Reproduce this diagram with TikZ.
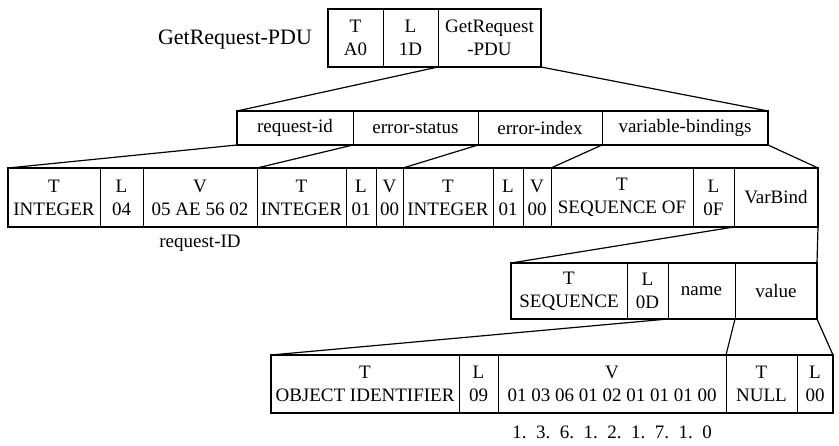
\documentclass[tikz,border=0pt]{standalone}
\usepackage{fontspec}
\setmainfont{Liberation Serif}
\begin{document}
\begin{tikzpicture}[x=1pt,y=-1pt,
  cell/.style={draw, line width=0.8pt, inner sep=0pt, outer sep=0pt, anchor=north west,
    align=center, font=\fontsize{19}{23}\selectfont},
  rowbox/.style={draw, line width=1.6pt},
  link/.style={draw, line width=1.2pt},
  lbl/.style={inner sep=0pt, font=\fontsize{19}{23}\selectfont}]
\useasboundingbox (0,0) rectangle (839,446);
% labels
\node[lbl, font=\fontsize{22}{26}\selectfont] (title) at (235,40) {GetRequest-PDU};
% row 1
\node[cell, minimum width=55pt, minimum height=58pt] (a1) at (328,9) {T\\A0};
\node[cell, minimum width=55pt, minimum height=58pt] (a2) at (383,9) {L\\1D};
\node[cell, minimum width=103pt, minimum height=58pt] (a3) at (438,9) {GetRequest\\-PDU};
\draw[rowbox] (a1.north west) rectangle (a3.south east);
% row 2
\node[cell, minimum width=116pt, minimum height=34pt] (b1) at (237,111) {request-id};
\node[cell, minimum width=125pt, minimum height=34pt] (b2) at (353,111) {error-status};
\node[cell, minimum width=124pt, minimum height=34pt] (b3) at (478,111) {error-index};
\node[cell, minimum width=166pt, minimum height=34pt] (b4) at (602,111) {variable-bindings};
\draw[rowbox] (b1.north west) rectangle (b4.south east);
% row 3
\node[cell, minimum width=92pt, minimum height=59pt] (c1) at (8,168) {T\\INTEGER};
\node[cell, minimum width=43pt, minimum height=59pt] (c2) at (100,168) {L\\04};
\node[cell, minimum width=114pt, minimum height=59pt] (c3) at (143,168) {V\\05 AE 56 02};
\node[cell, minimum width=89pt, minimum height=59pt] (c4) at (257,168) {T\\INTEGER};
\node[cell, minimum width=30pt, minimum height=59pt] (c5) at (346,168) {L\\01};
\node[cell, minimum width=27pt, minimum height=59pt] (c6) at (376,168) {V\\00};
\node[cell, minimum width=90pt, minimum height=59pt] (c7) at (403,168) {T\\INTEGER};
\node[cell, minimum width=30pt, minimum height=59pt] (c8) at (493,168) {L\\01};
\node[cell, minimum width=28pt, minimum height=59pt] (c9) at (523,168) {V\\00};
\node[cell, minimum width=142pt, minimum height=59pt] (c10) at (551,168) {T\\SEQUENCE OF};
\node[cell, minimum width=41pt, minimum height=59pt] (c11) at (693,168) {L\\0F};
\node[cell, minimum width=84pt, minimum height=59pt] (c12) at (734,168) {VarBind};
\draw[rowbox] (c1.north west) rectangle (c12.south east);
\node[lbl] (reqid) at (200,243) {request-ID};
% row 4
\node[cell, minimum width=116pt, minimum height=56pt] (d1) at (511,263) {T\\SEQUENCE};
\node[cell, minimum width=41pt, minimum height=56pt] (d2) at (627,263) {L\\0D};
\node[cell, minimum width=67pt, minimum height=56pt] (d3) at (668,263) {name};
\node[cell, minimum width=82pt, minimum height=56pt] (d4) at (735,263) {value};
\draw[rowbox] (d1.north west) rectangle (d4.south east);
% row 5
\node[cell, minimum width=188pt, minimum height=58pt] (e1) at (271,355) {T\\OBJECT IDENTIFIER};
\node[cell, minimum width=39pt, minimum height=58pt] (e2) at (459,355) {L\\09};
\node[cell, minimum width=228pt, minimum height=58pt] (e3) at (498,355) {V\\01 03 06 01 02 01 01 01 00};
\node[cell, minimum width=71pt, minimum height=58pt] (e4) at (726,355) {T\\NULL};
\node[cell, minimum width=36pt, minimum height=58pt] (e5) at (797,355) {L\\00};
\draw[rowbox] (e1.north west) rectangle (e5.south east);
\node[lbl] (oid) at (612,432) {1.\ \ 3.\ \ 6.\ \ 1.\ \ 2.\ \ 1.\ \ 7.\ \ 1.\ \ 0};
% connectors
\draw[link] (a2.south east) -- (b1.north west);
\draw[link] (a3.south east) -- (b4.north east);
\draw[link] (b1.south west) -- (c1.north west);
\draw[link] (b1.south east) -- (c4.north west);
\draw[link] (b2.south east) -- (c7.north west);
\draw[link] (b3.south east) -- (c10.north west);
\draw[link] (b4.south east) -- (c12.north east);
\draw[link] (c11.south east) -- (d1.north west);
\draw[link] (c12.south east) -- (d4.north east);
\draw[link] (d2.south east) -- (e1.north west);
\draw[link] (d3.south east) -- (e4.north west);
\draw[link] (d4.south east) -- (e5.north east);
\end{tikzpicture}
\end{document}
